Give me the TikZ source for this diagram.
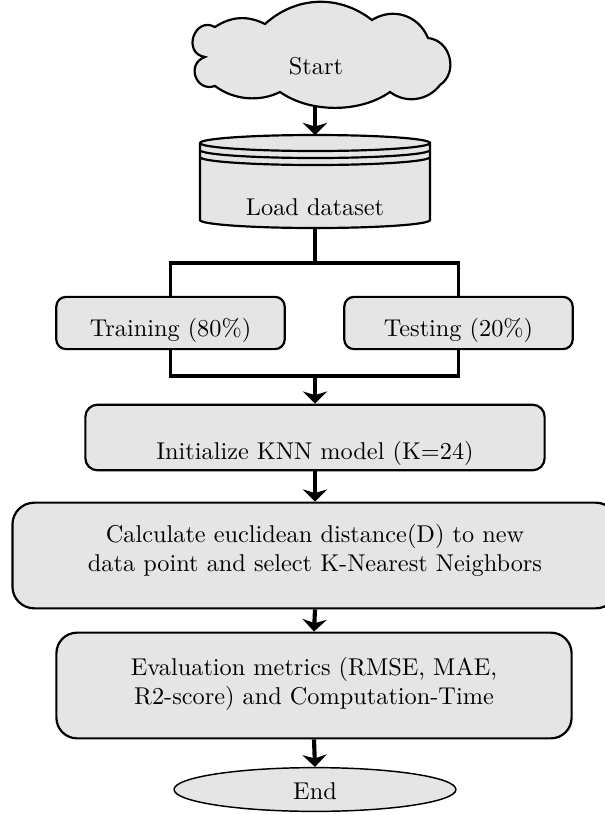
\documentclass[tikz,border=0pt]{standalone}
\usepackage{tikz}
\usetikzlibrary{arrows.meta,shapes.geometric}

\begin{document}
\begin{tikzpicture}[
    x=0.4115pt,y=0.4115pt,
    box/.style={draw,fill=gray!20,line width=0.9pt,align=center,
      inner sep=3pt},
    link/.style={-{Stealth[length=5pt,width=10pt,inset=1.5pt]},
      line width=1.7pt},
    fork/.style={line width=1.5pt},
    db/.style={line width=0.9pt}
]
\useasboundingbox (0,0) rectangle (604,-815);

% start cloud, drawn by hand
\filldraw[db,fill=gray!20] (205,-57)
  to[bend left=100,looseness=1.9] (215,-27)
  to[bend left=30] (265,-24)
  to[bend left=40] (372,-20)
  to[bend left=50,looseness=1.07] (428,-38)
  to[bend left=70,looseness=1.2] (440,-85)
  to[bend left=45] (390,-92)
  to[bend left=35,looseness=0.86] (280,-92)
  to[bend left=32,looseness=0.9] (215,-86)
  to[bend left=90,looseness=1.7] (205,-57) -- cycle;
\node[anchor=base] (start) at (316,-74) {Start};
\coordinate (cloudbot) at (315,-107);

% dataset cylinder, drawn by hand
\filldraw[db,fill=gray!20] (200,-143) -- (200,-220)
  arc[start angle=180,end angle=360,x radius=115,y radius=8] -- (430,-143)
  arc[start angle=0,end angle=180,x radius=115,y radius=8] -- cycle;
\foreach \d in {0,7,14} {
  \draw[db] (200,-143-\d)
    arc[start angle=180,end angle=360,x radius=115,y radius=8];
}
\node[anchor=base] (load) at (315,-215) {Load dataset};
\coordinate (dbtop) at (315,-135);
\coordinate (dbbot) at (315,-228);

\node[box,rounded corners=4pt,minimum width=94pt,minimum height=21.5pt,
  text height=11pt,text depth=0pt] (train) at (170.5,-323) {Training (80\%)};
\node[box,rounded corners=4pt,minimum width=94pt,minimum height=21.5pt,
  text height=11pt,text depth=0pt] (test) at (458.5,-323) {Testing (20\%)};
\coordinate (split) at (315,-263);
\coordinate (merge) at (315,-376);

\node[box,rounded corners=5pt,minimum width=189pt,minimum height=27pt,
  text height=18.5pt,text depth=0pt] (init) at (315,-437.5)
  {Initialize KNN model (K=24)};
\node[box,rounded corners=9pt,minimum width=249pt,minimum height=43.5pt,
  text depth=6pt] (calc) at (315,-555.5)
  {Calculate euclidean distance(D) to new\\data point and select K-Nearest Neighbors};
\node[box,rounded corners=8.5pt,minimum width=212pt,minimum height=43.5pt,
  text depth=4pt] (eval) at (314,-685.5)
  {Evaluation metrics (RMSE, MAE,\\R2-score) and Computation-Time};
\node[box,ellipse,line width=0.6pt,inner sep=1pt,minimum width=116pt,
  minimum height=18pt,text height=8pt,text depth=-7.2pt] (end) at (315,-789.5)
  {End};

\draw[link] (cloudbot) -- (dbtop);
\draw[fork] (dbbot) -- (split);
\draw[fork] (train.north) |- (split) -| (test.north);
\draw[fork] (train.south) |- (merge) -| (test.south);
\draw[link] (merge) -- (init.north);
\draw[link] (init.south) -- (calc.north);
\draw[link] (calc.south) -- (eval.north);
\draw[link] (eval.south) -- (end.north);
\end{tikzpicture}
\end{document}
